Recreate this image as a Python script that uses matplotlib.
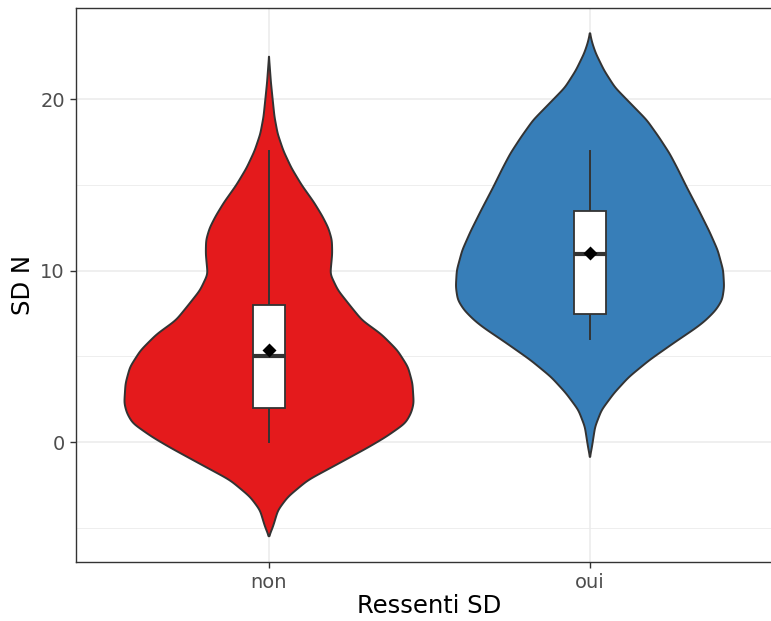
import numpy as np
import matplotlib
matplotlib.use('Agg')
import matplotlib.pyplot as plt

plt.rcParams['font.family'] = ['DejaVu Sans']

# ---- data ----
categories = ['non', 'oui']
fill_colors = ['#E41A1C', '#377EB8']

# violin outlines: y value and half-width (x units) of the density
non_y = [-5.5, -4.94, -3.97, -3.19, -2.22, -1.27, -0.32, 0.31, 1.1, 1.7, 2.27,
         3.43, 4.39, 5.36, 6.3, 7.11, 7.89, 8.86, 9.8, 11.0, 11.8, 12.5, 13.2,
         14.0, 15.0, 16.0, 17.0, 18.0, 19.0, 19.9, 21.0, 22.5]
non_w = [0.0, 0.0125, 0.028, 0.059, 0.121, 0.215, 0.308, 0.365, 0.425, 0.443,
         0.451, 0.447, 0.433, 0.40, 0.35, 0.29, 0.256, 0.215, 0.191, 0.197,
         0.196, 0.185, 0.166, 0.14, 0.102, 0.07, 0.045, 0.027, 0.017, 0.012,
         0.006, 0.0]
oui_y = [-0.87, -0.3, 0.9, 1.87, 2.86, 3.8, 4.8, 5.8, 6.7, 7.1, 7.7, 8.3, 9.06,
         10.03, 11.2, 12.3, 13.5, 14.9, 16.0, 16.85, 17.8, 18.8, 19.95, 20.7,
         21.7, 22.7, 23.3, 23.87]
oui_w = [0.0, 0.006, 0.016, 0.036, 0.075, 0.121, 0.186, 0.262, 0.333, 0.36,
         0.392, 0.412, 0.418, 0.415, 0.398, 0.372, 0.34, 0.301, 0.272, 0.248,
         0.215, 0.177, 0.117, 0.078, 0.044, 0.018, 0.007, 0.0]

# boxplot stats
whisk_lo = [0, 6]
q1 = [2, 7.5]
medians = [5, 11]
q3 = [8, 13.5]
whisk_hi = [17, 17]
means = [5.35, 11.05]

profiles = [(non_y, non_w), (oui_y, oui_w)]

OUTLINE = '#333333'
GRID_MAJOR = '#EBEBEB'


def outline(y, w, step=0.02, sigma=0.18):
    # resample on a fine grid and soften the corners between read points
    ys = np.arange(y[0], y[-1] + step / 2, step)
    ws = np.interp(ys, y, w)
    k = np.arange(-4 * sigma, 4 * sigma + step / 2, step)
    kern = np.exp(-0.5 * (k / sigma) ** 2)
    kern /= kern.sum()
    pad = len(k) // 2
    wp = np.concatenate([np.zeros(pad), ws, np.zeros(pad)])
    sm = np.convolve(wp, kern, mode='same')[pad:pad + len(ws)]
    sm[0] = sm[-1] = 0.0
    return ys, sm


fig = plt.figure(figsize=(7.71, 6.21), dpi=100, facecolor='white')
ax = fig.add_axes([0.0991, 0.0958, 0.9159, 0.8913])
ax.set_facecolor('white')

ax.set_xlim(0.4, 2.6)
ax.set_ylim(-6.97, 25.34)

# grid (theme_bw)
for v in [-5, 5, 15]:
    ax.axhline(v, color=GRID_MAJOR, lw=0.6, zorder=0)
for v in [0, 10, 20]:
    ax.axhline(v, color=GRID_MAJOR, lw=1.1, zorder=0)
for v in [1, 2]:
    ax.axvline(v, color=GRID_MAJOR, lw=1.1, zorder=0)

for i, (yy, ww) in enumerate(profiles):
    xc = i + 1
    ys, ws = outline(yy, ww)
    xs = np.concatenate([xc - ws, (xc + ws)[::-1]])
    yv = np.concatenate([ys, ys[::-1]])
    ax.fill(xs, yv, facecolor=fill_colors[i], edgecolor=OUTLINE, lw=1.4,
            joinstyle='round', zorder=2)

    bw = 0.05
    ax.plot([xc, xc], [whisk_lo[i], q1[i]], color=OUTLINE, lw=1.4, zorder=3)
    ax.plot([xc, xc], [q3[i], whisk_hi[i]], color=OUTLINE, lw=1.4, zorder=3)
    ax.fill([xc - bw, xc + bw, xc + bw, xc - bw], [q1[i], q1[i], q3[i], q3[i]],
            facecolor='white', edgecolor=OUTLINE, lw=1.3, zorder=3)
    ax.plot([xc - bw, xc + bw], [medians[i], medians[i]], color=OUTLINE, lw=3.0,
            solid_capstyle='butt', zorder=4)
    ax.plot(xc, means[i], marker='D', ms=7, color='black', mec='none', zorder=5)

ax.set_xticks([1, 2])
ax.set_xticklabels(categories)
ax.set_yticks([0, 10, 20])
ax.tick_params(axis='both', colors=OUTLINE, length=4.3, width=1.0,
               labelsize=14, labelcolor='#4D4D4D', pad=4)

for s in ax.spines.values():
    s.set_color(OUTLINE)
    s.set_linewidth(1.0)

ax.set_xlabel('Ressenti SD', fontsize=17.5, color='black', labelpad=1.5)
ax.set_ylabel('SD N', fontsize=17.5, color='black', labelpad=3.5)

fig.savefig('out.png', dpi=100, facecolor='white')
